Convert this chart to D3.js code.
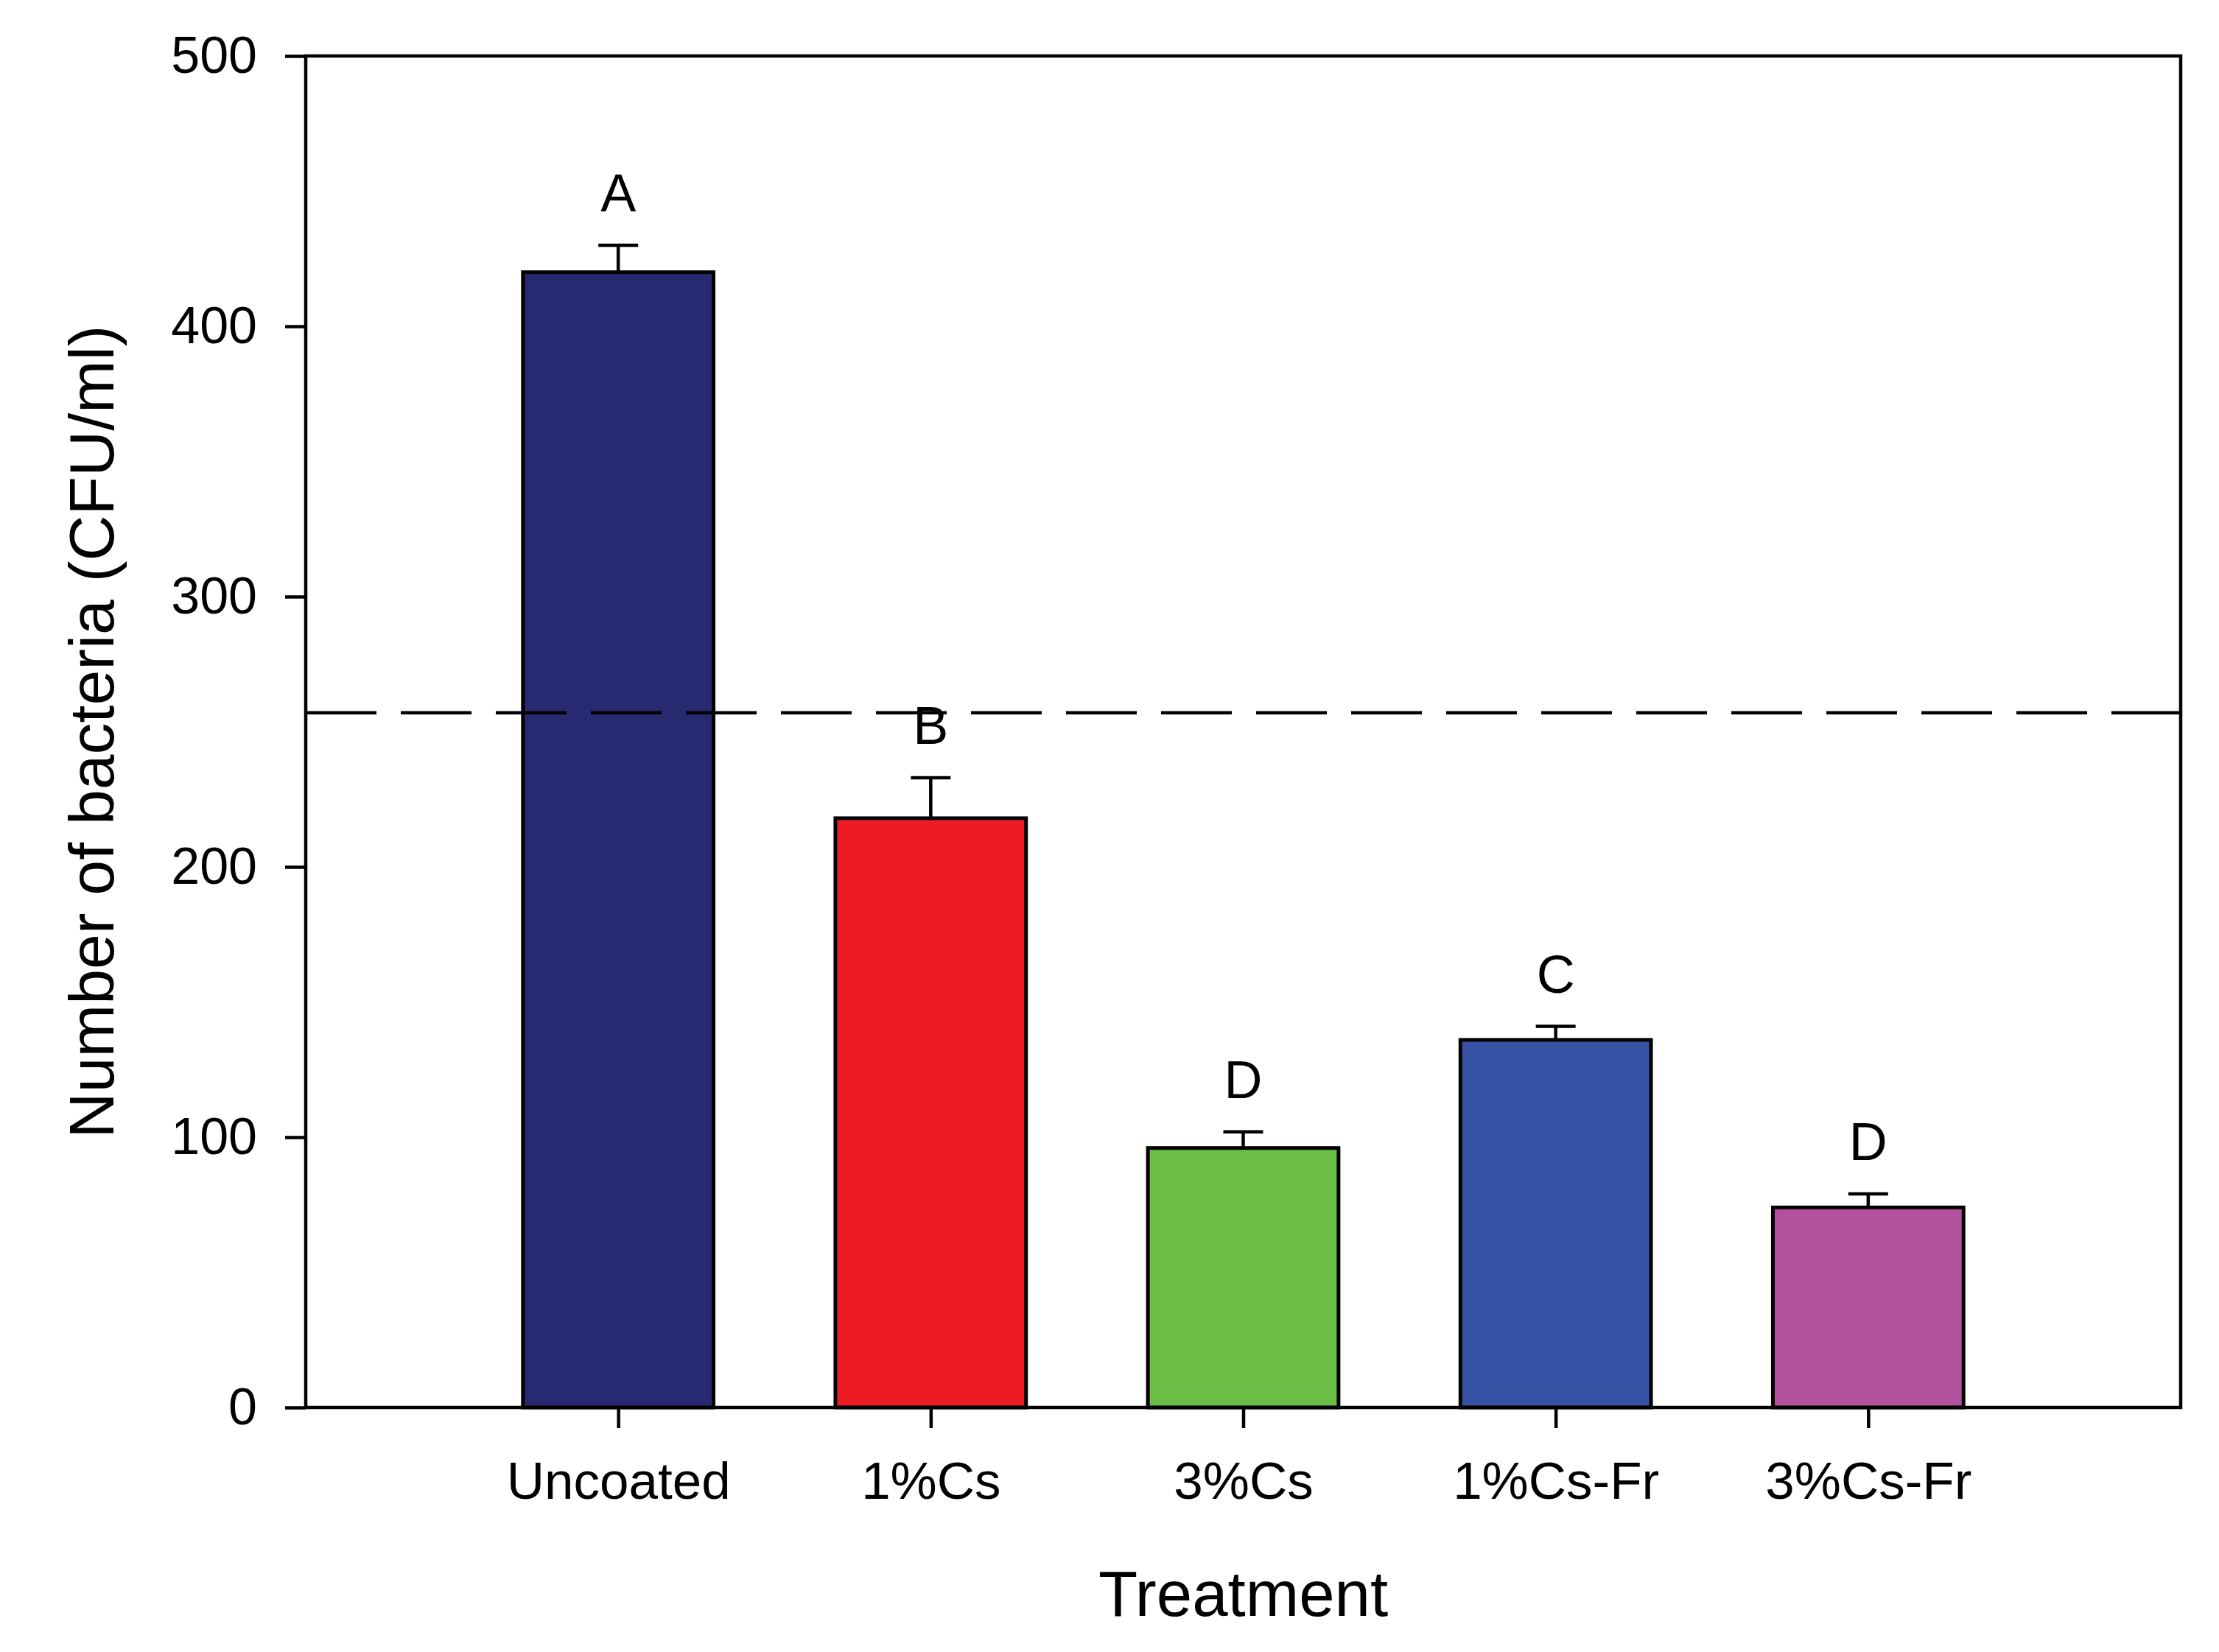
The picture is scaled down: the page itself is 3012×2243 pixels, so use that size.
<!DOCTYPE html>
<html>
<head>
<meta charset="utf-8">
<script src="https://cdn.jsdelivr.net/npm/d3@7"></script>
<style>
  body { margin: 0; background: #fff; }
  text { font-family: "Liberation Sans", Arial, sans-serif; fill: #000; }
</style>
</head>
<body>
<svg width="3012" height="2243"></svg>
<script>
// data
var treatments = ["Uncoated", "1%Cs", "3%Cs", "1%Cs-Fr", "3%Cs-Fr"];
var means = [420, 218, 96, 136, 74];
var errors = [10, 15, 6, 5, 5];
var letters = ["A", "B", "D", "C", "D"];
var barColors = ["#272a70", "#ed1c24", "#6abd45", "#3653a5", "#b3519e"];
var yTicks = [0, 100, 200, 300, 400, 500];
var refLine = 257;

var svg = d3.select("svg"),
  plotLeft = 415,
  plotRight = 2960,
  plotTop = 76,
  plotBottom = 1911;

var x = d3.scalePoint().domain(treatments).range([plotLeft, plotRight]).padding(1),
  y = d3.scaleLinear().domain([0, 500]).range([plotBottom, plotTop]);

var barW = x.step() * 0.61;

// bars
svg.selectAll(".bar")
  .data(treatments)
  .enter()
  .append("rect")
  .attr("class", "bar")
  .attr("x", function (d) { return x(d) - barW / 2; })
  .attr("y", function (d, i) { return y(means[i]); })
  .attr("width", barW)
  .attr("height", function (d, i) { return plotBottom - y(means[i]); })
  .attr("fill", function (d, i) { return barColors[i]; })
  .attr("stroke", "#000")
  .attr("stroke-width", 5);

// error bars (upper only)
var err = svg.append("g").attr("stroke", "#000").attr("stroke-width", 4.5);
treatments.forEach(function (d, i) {
  err.append("line")
    .attr("x1", x(d)).attr("x2", x(d))
    .attr("y1", y(means[i])).attr("y2", y(means[i] + errors[i]));
  err.append("line")
    .attr("x1", x(d) - 27).attr("x2", x(d) + 27)
    .attr("y1", y(means[i] + errors[i])).attr("y2", y(means[i] + errors[i]));
});

// significance letters
svg.selectAll(".letter")
  .data(treatments)
  .enter()
  .append("text")
  .attr("class", "letter")
  .attr("x", function (d) { return x(d); })
  .attr("y", function (d, i) { return y(means[i] + errors[i]) - 46; })
  .attr("text-anchor", "middle")
  .attr("font-size", "72px")
  .text(function (d, i) { return letters[i]; });

// dashed reference line
svg.append("line")
  .attr("x1", plotLeft).attr("x2", plotRight)
  .attr("y1", y(refLine)).attr("y2", y(refLine))
  .attr("stroke", "#000")
  .attr("stroke-width", 4.5)
  .attr("stroke-dasharray", "96,33");

// axes
var yAxis = svg.append("g")
  .attr("transform", "translate(" + plotLeft + ",0)")
  .call(d3.axisLeft(y).tickValues(yTicks).tickSize(28).tickSizeOuter(0).tickPadding(38));

var xAxis = svg.append("g")
  .attr("transform", "translate(0," + plotBottom + ")")
  .call(d3.axisBottom(x).tickSize(28).tickSizeOuter(0).tickPadding(46));

[yAxis, xAxis].forEach(function (a) {
  a.select(".domain").remove();
  a.selectAll("line").attr("stroke", "#000").attr("stroke-width", 4.5);
  a.selectAll("text")
    .attr("font-family", "Liberation Sans, Arial, sans-serif")
    .attr("fill", "#000");
});
yAxis.selectAll("text").attr("font-size", "70px");
xAxis.selectAll("text").attr("font-size", "71px");

// frame
svg.append("rect")
  .attr("x", plotLeft).attr("y", plotTop)
  .attr("width", plotRight - plotLeft).attr("height", plotBottom - plotTop)
  .attr("fill", "none")
  .attr("stroke", "#000")
  .attr("stroke-width", 4.5);

// axis titles
svg.append("text")
  .attr("transform", "translate(154," + (plotTop + plotBottom) / 2 + ") rotate(-90)")
  .attr("text-anchor", "middle")
  .attr("font-size", "86px")
  .text("Number of bacteria (CFU/ml)");

svg.append("text")
  .attr("x", (plotLeft + plotRight) / 2)
  .attr("y", 2194)
  .attr("text-anchor", "middle")
  .attr("font-size", "87px")
  .text("Treatment");
</script>
</body>
</html>
